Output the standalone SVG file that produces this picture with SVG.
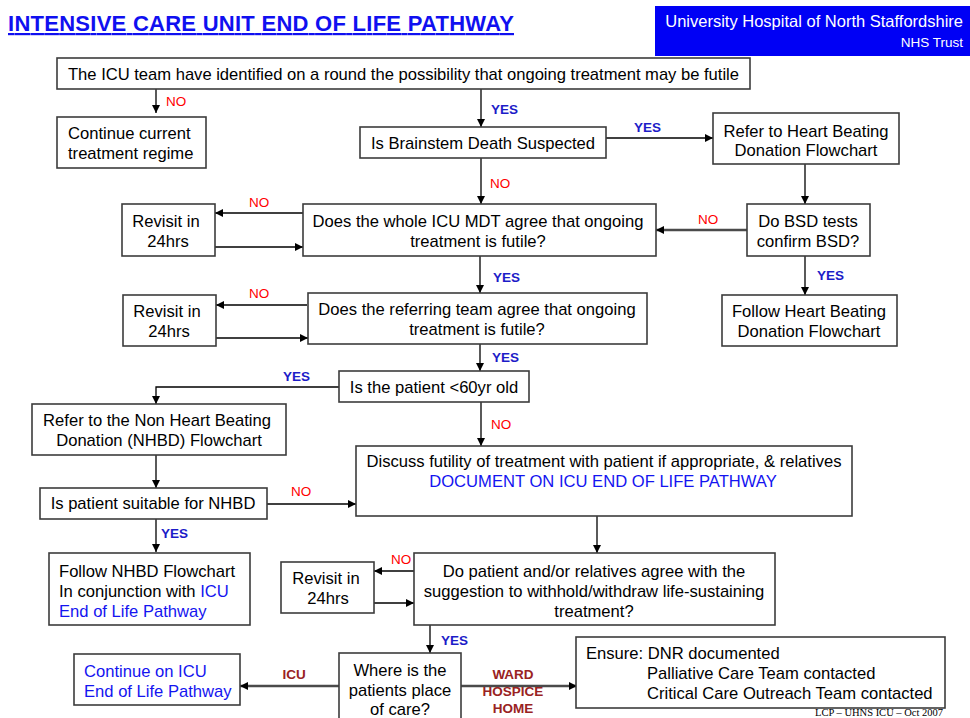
<svg xmlns="http://www.w3.org/2000/svg" width="970" height="718" viewBox="0 0 970 718">
<defs>
<style>
text{font-family:"Liberation Sans",Arial,sans-serif;font-size:16.6px;fill:#000}
.c{text-anchor:middle}
.r{text-anchor:end}
.box{fill:#fff;stroke:#3c3c3c;stroke-width:1.6}
.no{font-size:13.5px;fill:#ff0000}
.yes{font-size:13.5px;font-weight:bold;fill:#1c1cc8}
.pl{font-size:13.5px;font-weight:bold;fill:#992222}
.blue{fill:#1414f0}
.ln{stroke:#000;stroke-width:1.3;fill:none}
.ar{marker-end:url(#ah)}
.thick{stroke:#4a4a4a;stroke-width:2.5}
</style>
<marker id="ah" viewBox="0 0 10 10" refX="10" refY="5" markerWidth="8" markerHeight="8" markerUnits="userSpaceOnUse" orient="auto">
<path d="M0,0 L10,5 L0,10 z" fill="#000"/>
</marker>
</defs>
<rect width="970" height="718" fill="#fff"/>

<g id="title">
<text x="8" y="31" style="font-size:22px;font-weight:bold;fill:#1010f0" text-decoration="underline" textLength="506">INTENSIVE CARE UNIT END OF LIFE PATHWAY</text>
</g>
<g id="header">
<rect x="655" y="6" width="315" height="50" fill="#0000f5"/>
<text class="r" x="963" y="27" style="font-size:16.5px;fill:#fff">University Hospital of North Staffordshire</text>
<text class="r" x="963" y="47" style="font-size:13.5px;fill:#fff">NHS Trust</text>
</g>

<g id="connectors">
<line class="ln ar" x1="156" y1="89" x2="156" y2="113"/>
<text class="no" x="166" y="106">NO</text>
<line class="ln ar" x1="481" y1="89" x2="481" y2="127"/>
<text class="yes" x="491" y="114">YES</text>
<line class="ln ar" x1="606" y1="138" x2="713" y2="138"/>
<text class="yes" x="634" y="132">YES</text>
<line class="ln ar" x1="805" y1="164" x2="805" y2="204"/>
<line class="ln ar" x1="481" y1="158" x2="481" y2="204"/>
<text class="no" x="490" y="188">NO</text>
<line class="ln ar thick" x1="747" y1="230" x2="656" y2="230"/>
<text class="no" x="698" y="224">NO</text>
<line class="ln ar" x1="805" y1="256" x2="805" y2="295"/>
<text class="yes" x="817" y="280">YES</text>
<line class="ln ar" x1="307" y1="213" x2="215" y2="213" style="stroke-width:1.6"/>
<text class="no" x="249" y="207">NO</text>
<line class="ln ar" x1="215" y1="247" x2="303" y2="247" style="stroke-width:1.6"/>
<line class="ln ar" x1="480" y1="256" x2="480" y2="293"/>
<text class="yes" x="493" y="282">YES</text>
<line class="ln ar" x1="307" y1="305" x2="216" y2="305" style="stroke-width:1.6"/>
<text class="no" x="249" y="298">NO</text>
<line class="ln ar" x1="214" y1="338" x2="308" y2="338" style="stroke-width:1.6"/>
<line class="ln ar" x1="480" y1="344" x2="480" y2="371"/>
<text class="yes" x="492" y="362">YES</text>
<polyline class="ln ar" points="339,387 156,387 156,404"/>
<text class="yes" x="283" y="381">YES</text>
<line class="ln ar" x1="481" y1="402" x2="481" y2="446"/>
<text class="no" x="491" y="429">NO</text>
<line class="ln ar" x1="156" y1="455" x2="156" y2="488"/>
<line class="ln ar" x1="265" y1="504" x2="356" y2="504" style="stroke-width:1.6"/>
<text class="no" x="291" y="496">NO</text>
<line class="ln ar" x1="156" y1="519" x2="156" y2="552"/>
<text class="yes" x="161" y="538">YES</text>
<line class="ln ar" x1="597" y1="512" x2="597" y2="553"/>
<line class="ln ar" x1="414" y1="571" x2="374" y2="571" style="stroke-width:1.6"/>
<text class="no" x="391" y="564">NO</text>
<line class="ln ar" x1="374" y1="603" x2="414" y2="603" style="stroke-width:1.6"/>
<line class="ln ar" x1="430" y1="625" x2="430" y2="653"/>
<text class="yes" x="441" y="645">YES</text>
<line class="ln ar thick" x1="339" y1="686" x2="240" y2="686"/>
<text class="pl c" x="294" y="679">ICU</text>
<line class="ln ar thick" x1="461" y1="686" x2="577" y2="686"/>
<text class="pl c" x="513" y="679">WARD</text>
<text class="pl c" x="513" y="696">HOSPICE</text>
<text class="pl c" x="513" y="713">HOME</text>
</g>

<g id="n-start">
<rect class="box" x="57" y="58" width="693" height="31"/>
<text x="68" y="80" textLength="671">The ICU team have identified on a round the possibility that ongoing treatment may be futile</text>
</g>
<g id="n-continue">
<rect class="box" x="57" y="117" width="149" height="51"/>
<text x="68" y="139">Continue current</text>
<text x="68" y="159">treatment regime</text>
</g>
<g id="n-brainstem">
<rect class="box" x="360" y="127" width="246" height="31"/>
<text class="c" x="483" y="149">Is Brainstem Death Suspected</text>
</g>
<g id="n-refer-hb">
<rect class="box" x="713" y="113" width="186" height="51"/>
<text class="c" x="806" y="137">Refer to Heart Beating</text>
<text class="c" x="806" y="156">Donation Flowchart</text>
</g>
<g id="n-bsd">
<rect class="box" x="747" y="204" width="123" height="52"/>
<text class="c" x="808" y="227">Do BSD tests</text>
<text class="c" x="808" y="247">confirm BSD?</text>
</g>
<g id="n-follow-hb">
<rect class="box" x="722" y="295" width="175" height="51"/>
<text class="c" x="809" y="317">Follow Heart Beating</text>
<text class="c" x="809" y="337">Donation Flowchart</text>
</g>
<g id="n-mdt">
<rect class="box" x="303" y="204" width="353" height="52"/>
<text class="c" x="478" y="227">Does the whole ICU MDT agree that ongoing</text>
<text class="c" x="478" y="247">treatment is futile?</text>
</g>
<g id="n-revisit1">
<rect class="box" x="122" y="204" width="93" height="52"/>
<text class="c" x="166" y="227">Revisit in</text>
<text class="c" x="168" y="247">24hrs</text>
</g>
<g id="n-referring">
<rect class="box" x="308" y="293" width="339" height="51"/>
<text class="c" x="477" y="315">Does the referring team agree that ongoing</text>
<text class="c" x="477" y="335">treatment is futile?</text>
</g>
<g id="n-revisit2">
<rect class="box" x="123" y="295" width="93" height="51"/>
<text class="c" x="167" y="317">Revisit in</text>
<text class="c" x="169" y="337">24hrs</text>
</g>
<g id="n-age">
<rect class="box" x="339" y="371" width="190" height="31"/>
<text class="c" x="434" y="393">Is the patient &lt;60yr old</text>
</g>
<g id="n-nhbd">
<rect class="box" x="32" y="404" width="254" height="51"/>
<text class="c" x="157" y="426">Refer to the Non Heart Beating</text>
<text class="c" x="159" y="446">Donation (NHBD) Flowchart</text>
</g>
<g id="n-suitable">
<rect class="box" x="40" y="488" width="227" height="31"/>
<text class="c" x="153" y="509">Is patient suitable for NHBD</text>
</g>
<g id="n-discuss">
<rect class="box" x="356" y="446" width="496" height="70"/>
<text class="c" x="604" y="467">Discuss futility of treatment with patient if appropriate, &amp; relatives</text>
<text class="c blue" x="603" y="487">DOCUMENT ON ICU END OF LIFE PATHWAY</text>
</g>
<g id="n-follow-nhbd">
<rect class="box" x="49" y="553" width="201" height="72"/>
<text x="59" y="577">Follow NHBD Flowchart</text>
<text x="59" y="597">In conjunction with <tspan class="blue">ICU</tspan></text>
<text class="blue" x="59" y="617">End of Life Pathway</text>
</g>
<g id="n-agree">
<rect class="box" x="414" y="553" width="361" height="72"/>
<text class="c" x="594" y="577">Do patient and/or relatives agree with the</text>
<text class="c" x="594" y="597">suggestion to withhold/withdraw life-sustaining</text>
<text class="c" x="594" y="617">treatment?</text>
</g>
<g id="n-revisit3">
<rect class="box" x="281" y="562" width="93" height="51"/>
<text class="c" x="326" y="584">Revisit in</text>
<text class="c" x="328" y="604">24hrs</text>
</g>
<g id="n-where">
<rect class="box" x="339" y="653" width="122" height="75"/>
<text class="c" x="400" y="676">Where is the</text>
<text class="c" x="400" y="696">patients place</text>
<text class="c" x="400" y="715">of care?</text>
</g>
<g id="n-icu">
<rect class="box" x="74" y="654" width="166" height="51"/>
<text class="blue" x="84" y="677">Continue on ICU</text>
<text class="blue" x="84" y="697">End of Life Pathway</text>
</g>
<g id="n-ensure">
<rect class="box" x="576" y="637" width="369" height="71"/>
<text x="586" y="659">Ensure: DNR documented</text>
<text x="647" y="679">Palliative Care Team contacted</text>
<text x="647" y="699">Critical Care Outreach Team contacted</text>
</g>
<g id="footer">
<text class="r" x="943" y="716" style="font-family:'Liberation Serif','Times New Roman',serif;font-size:10.5px">LCP – UHNS ICU – Oct 2007</text>
</g>
</svg>
